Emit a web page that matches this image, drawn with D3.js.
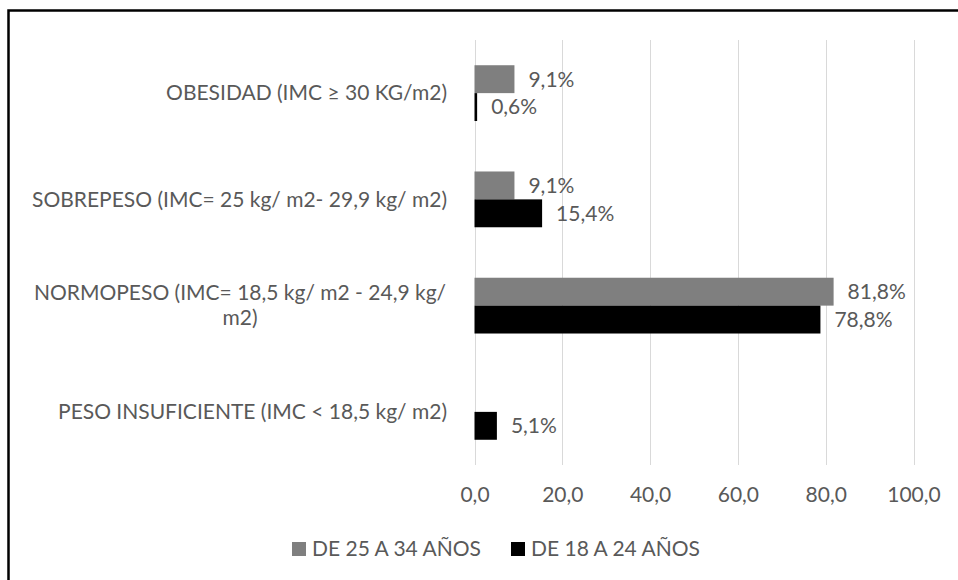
<!DOCTYPE html>
<html>
<head>
<meta charset="utf-8">
<script src="https://cdn.jsdelivr.net/npm/d3@7/dist/d3.min.js"></script>
<style>
  html, body { margin: 0; padding: 0; background: #fff; }
  svg { display: block; }
  text { font-family: Lato, "Open Sans", sans-serif; fill: #595959; }
</style>
</head>
<body>
<svg id="chart" width="958" height="580"></svg>
<script>
// BMI categories, top to bottom
const categories = [
  "OBESIDAD (IMC ≥ 30 KG/m2)",
  "SOBREPESO (IMC= 25 kg/ m2- 29,9 kg/ m2)",
  "NORMOPESO (IMC= 18,5 kg/ m2 - 24,9 kg/ m2)",
  "PESO INSUFICIENTE (IMC < 18,5 kg/ m2)"
];
// wrapped lines for the category axis
const categoryLines = [
  ["OBESIDAD (IMC ≥ 30 KG/m2)"],
  ["SOBREPESO (IMC= 25 kg/ m2- 29,9 kg/ m2)"],
  ["NORMOPESO (IMC= 18,5 kg/ m2 - 24,9 kg/", "m2)"],
  ["PESO INSUFICIENTE (IMC < 18,5 kg/ m2)"]
];
const seriesNames = ["DE 25 A 34 AÑOS", "DE 18 A 24 AÑOS"];
const values25to34 = [9.1, 9.1, 81.8, null];
const values18to24 = [0.6, 15.4, 78.8, 5.1];
const xTicks = [0, 20, 40, 60, 80, 100];
const seriesColors = ["#7f7f7f", "#000000"];

const svg = d3.select("#chart");
const fmt = v => d3.format(".1f")(v).replace(".", ",");

// outer frame
svg.append("rect")
  .attr("x", 8.5).attr("y", 10.5)
  .attr("width", 970).attr("height", 600)
  .attr("fill", "none").attr("stroke", "#000").attr("stroke-width", 2.5);

const plot = { left: 474.5, right: 913.5, top: 40, bottom: 465 };

const x = d3.scaleLinear().domain([0, 100]).range([plot.left, plot.right]);
const y0 = d3.scaleBand().domain(categories).range([plot.top, plot.bottom])
  .paddingInner(0.475).paddingOuter(0.2375);
const y1 = d3.scaleBand().domain(seriesNames).range([0, y0.bandwidth()]);

// vertical gridlines
svg.append("g").selectAll("line").data(xTicks).join("line")
  .attr("x1", d => Math.round(x(d)) + 0.5).attr("x2", d => Math.round(x(d)) + 0.5)
  .attr("y1", plot.top).attr("y2", plot.bottom)
  .attr("stroke", "#d9d9d9").attr("stroke-width", 1);

// x axis tick labels
const xAxis = d3.axisBottom(x).tickValues(xTicks).tickFormat(fmt).tickSize(0).tickPadding(0);
const gx = svg.append("g").attr("transform", `translate(0, ${plot.bottom})`).call(xAxis);
gx.select(".domain").remove();
gx.selectAll("text")
  .attr("y", 30).attr("dy", "0.35em")
  .style("font-size", "21px").style("fill", "#595959")
  .style("font-family", "Lato, 'Open Sans', sans-serif");

// category labels (wrapped labels are centred, single lines right-aligned)
const catG = svg.append("g");
categories.forEach((c, i) => {
  const lines = categoryLines[i];
  const cy = y0(c) + y0.bandwidth() / 2;
  const lh = 25;
  const t = catG.append("text")
    .attr("text-anchor", lines.length > 1 ? "middle" : "end")
    .style("font-size", "21px");
  lines.forEach((ln, j) => {
    t.append("tspan")
      .attr("x", lines.length > 1 ? 240 : 447)
      .attr("y", cy + (j - (lines.length - 1) / 2) * lh)
      .attr("dy", "0.35em")
      .text(ln);
  });
});

// bars and value labels
const series = [values25to34, values18to24];
series.forEach((vals, s) => {
  const rows = categories.map((c, i) => ({ c, v: vals[i] })).filter(d => d.v != null);
  svg.append("g").selectAll("rect").data(rows).join("rect")
    .attr("x", x(0))
    .attr("y", d => y0(d.c) + y1(seriesNames[s]))
    .attr("width", d => x(d.v) - x(0))
    .attr("height", y1.bandwidth())
    .attr("fill", seriesColors[s]);
  svg.append("g").selectAll("text").data(rows).join("text")
    .attr("x", d => x(d.v) + 14)
    .attr("y", d => y0(d.c) + y1(seriesNames[s]) + y1.bandwidth() / 2)
    .attr("dy", "0.35em")
    .style("font-size", "21px")
    .text(d => fmt(d.v) + "%");
});

// legend
const legend = svg.append("g");
const legendItems = [{ x: 292, name: seriesNames[0], color: seriesColors[0] },
                     { x: 511, name: seriesNames[1], color: seriesColors[1] }];
legendItems.forEach(it => {
  legend.append("rect").attr("x", it.x).attr("y", 542).attr("width", 14).attr("height", 14)
    .attr("fill", it.color);
  legend.append("text").attr("x", it.x + 20).attr("y", 549).attr("dy", "0.35em")
    .style("font-size", "21px").text(it.name);
});
</script>
</body>
</html>
